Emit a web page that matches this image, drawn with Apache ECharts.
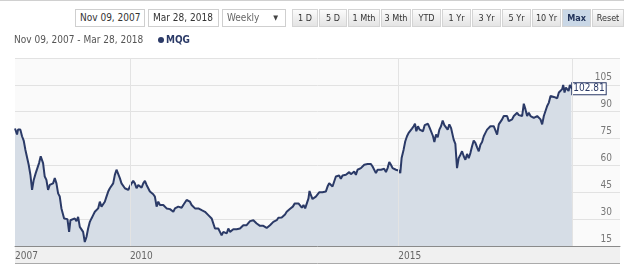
<!DOCTYPE html>
<html><head><meta charset="utf-8">
<script src="https://cdn.jsdelivr.net/npm/echarts@6/dist/echarts.min.js"></script>
<style>
body{margin:0;width:624px;height:266px;overflow:hidden;background:#fff;font-family:"DejaVu Sans Condensed","DejaVu Sans",sans-serif;}
#chart{position:absolute;left:0;top:0;width:624px;height:266px;}
.ctl{position:absolute;top:9px;height:18px;box-sizing:border-box;border:1px solid #cfcfcf;font-size:10px;line-height:16px;color:#333;white-space:nowrap;z-index:5;}
.inp{background:#fff;padding-left:4px;}
.sel{background:#fff;padding-left:4px;color:#666;}
.sel span{position:absolute;right:7px;top:0;font-size:7px;color:#444;}
.btn{background:linear-gradient(#fbfbfb,#e4e4e4);text-align:center;font-size:9px;border-color:#d4d4d4;}
.btn.on{background:#c9d7e6;font-weight:bold;color:#22335a;}
#topline{position:absolute;left:0;top:0;width:624px;height:1px;background:#d0d0d0;}
</style></head>
<body>
<div id="chart"></div>
<div id="topline"></div>
<div class="ctl inp" style="left:75px;width:70px">Nov 09, 2007</div>
<div class="ctl inp" style="left:148px;width:71px">Mar 28, 2018</div>
<div class="ctl sel" style="left:222px;width:64px">Weekly<span>&#9660;</span></div>
<div id="btns"></div>
<script>
// ---- data ----
const years = [
2007.860,2007.898,2007.916,2007.960,2007.991,2008.022,2008.053,2008.084,2008.115,2008.147,
2008.178,2008.209,2008.246,2008.277,2008.308,2008.339,2008.358,2008.383,2008.414,2008.445,
2008.476,2008.507,2008.538,2008.569,2008.601,2008.632,2008.663,2008.694,2008.725,2008.756,
2008.775,2008.806,2008.837,2008.868,2008.893,2008.930,2008.974,2009.005,2009.036,2009.067,
2009.098,2009.129,2009.160,2009.191,2009.222,2009.254,2009.285,2009.316,2009.347,2009.378,
2009.409,2009.440,2009.471,2009.502,2009.533,2009.564,2009.596,2009.627,2009.658,2009.689,
2009.720,2009.751,2009.782,2009.813,2009.844,2009.875,2009.907,2009.938,2009.969,2010.000,
2010.031,2010.062,2010.093,2010.124,2010.156,2010.187,2010.218,2010.249,2010.280,2010.311,
2010.342,2010.373,2010.404,2010.435,2010.466,2010.498,2010.529,2010.560,2010.591,2010.622,
2010.653,2010.684,2010.715,2010.747,2010.778,2010.809,2010.840,2010.871,2010.902,2010.933,
2010.964,2010.995,2011.026,2011.057,2011.088,2011.119,2011.150,2011.181,2011.213,2011.244,
2011.275,2011.306,2011.337,2011.368,2011.399,2011.430,2011.461,2011.492,2011.523,2011.554,
2011.585,2011.616,2011.647,2011.678,2011.709,2011.741,2011.772,2011.803,2011.834,2011.865,
2011.896,2011.927,2011.958,2011.989,2012.020,2012.051,2012.082,2012.113,2012.144,2012.175,
2012.206,2012.238,2012.269,2012.300,2012.331,2012.362,2012.393,2012.424,2012.455,2012.486,
2012.517,2012.548,2012.579,2012.610,2012.641,2012.672,2012.703,2012.735,2012.766,2012.797,
2012.828,2012.859,2012.890,2012.921,2012.952,2012.985,2013.035,2013.072,2013.109,2013.140,
2013.172,2013.203,2013.234,2013.265,2013.296,2013.327,2013.346,2013.371,2013.402,2013.433,
2013.464,2013.495,2013.526,2013.557,2013.588,2013.619,2013.650,2013.682,2013.713,2013.744,
2013.775,2013.806,2013.837,2013.868,2013.899,2013.930,2013.961,2013.992,2014.024,2014.055,
2014.086,2014.117,2014.148,2014.179,2014.210,2014.241,2014.272,2014.303,2014.334,2014.366,
2014.397,2014.428,2014.459,2014.490,2014.521,2014.552,2014.583,2014.614,2014.645,2014.677,
2014.708,2014.739,2014.770,2014.801,2014.832,2014.863,2014.894,2014.925,2014.956,2014.987,
2015.019,2015.037,2015.062,2015.099,2015.130,2015.162,2015.193,2015.224,2015.255,2015.286,
2015.311,2015.336,2015.367,2015.398,2015.429,2015.460,2015.491,2015.522,2015.553,2015.585,
2015.616,2015.647,2015.672,2015.703,2015.734,2015.765,2015.796,2015.827,2015.858,2015.889,
2015.920,2015.951,2015.982,2016.014,2016.032,2016.063,2016.094,2016.125,2016.157,2016.188,
2016.219,2016.250,2016.281,2016.312,2016.343,2016.374,2016.405,2016.436,2016.468,2016.499,
2016.530,2016.561,2016.592,2016.623,2016.654,2016.685,2016.716,2016.747,2016.778,2016.810,
2016.841,2016.872,2016.903,2016.934,2016.965,2016.996,2017.027,2017.058,2017.089,2017.120,
2017.152,2017.183,2017.214,2017.245,2017.276,2017.307,2017.338,2017.369,2017.400,2017.431,
2017.463,2017.494,2017.525,2017.556,2017.587,2017.618,2017.649,2017.680,2017.711,2017.742,
2017.773,2017.805,2017.836,2017.867,2017.898,2017.929,2017.960,2017.991,2018.022,2018.053,
2018.072,2018.097,2018.122,2018.147,2018.172,2018.196,2018.221,2018.240
];
const prices = [
80.6,77.3,80.0,80.0,76.3,73.9,68.8,68.3,60.4,54.8,
46.3,51.9,55.7,58.5,61.3,65.1,66.0,61.3,53.8,51.9,
46.3,49.1,48.2,50.0,52.9,50.0,44.4,42.6,36.0,35.0,
30.4,29.4,30.0,22.9,29.4,28.5,30.4,28.9,31.3,25.7,
24.75,22.9,17.25,20.0,24.75,28.5,30.4,32.25,34.1,33.2,
36.0,39.75,37.0,36.0,39.75,42.6,45.4,47.25,48.2,50.0,
54.75,57.6,56.6,52.9,50.0,49.1,47.25,48.2,46.3,48.2,
50.0,51.4,50.0,47.25,49.1,50.0,47.6,50.0,51.4,49.1,
47.25,45.4,44.4,43.9,42.6,37.0,39.75,37.9,38.8,37.9,
37.0,36.0,36.4,35.6,35.0,34.1,36.0,35.6,37.0,36.0,
36.4,37.9,38.8,40.7,41.6,39.75,37.9,37.0,36.0,35.6,
36.0,35.6,35.0,35.0,34.1,33.2,32.25,31.3,30.4,29.4,
24.75,23.8,24.75,22.9,21.0,22.9,23.8,22.0,24.75,22.9,
22.0,24.4,23.8,24.4,23.8,24.75,25.7,26.6,26.25,26.6,
27.6,28.9,29.25,29.4,28.9,27.6,26.6,26.25,25.7,26.25,
25.7,25.1,25.7,26.6,27.6,28.5,29.4,29.4,30.75,31.3,
30.9,31.3,32.6,34.1,35.0,35.8,37.0,38.8,37.9,38.8,
37.9,36.4,37.9,36.0,37.0,41.6,45.75,43.5,41.25,42.0,
42.6,43.5,45.0,43.9,45.0,44.4,45.4,48.2,50.0,49.4,
48.2,51.0,53.8,54.75,54.4,52.5,54.4,55.1,54.75,54.4,
56.25,55.1,55.7,56.6,54.75,57.6,56.6,58.5,59.4,60.4,
60.0,60.75,60.4,60.75,59.4,58.5,55.7,57.6,58.1,57.6,
58.5,58.1,56.25,58.5,61.9,60.4,58.5,58.9,57.6,58.5,
57.0,55.7,64.1,68.8,73.5,76.3,78.2,78.75,80.6,81.9,
83.25,79.1,81.9,80.0,81.0,79.1,82.5,81.4,83.25,81.0,
80.0,76.3,73.1,77.25,75.75,80.0,81.9,85.1,82.5,81.9,
80.0,82.9,81.0,81.9,74.4,72.0,58.5,64.1,66.0,67.9,
65.1,63.2,66.4,64.1,66.9,70.7,73.9,72.6,70.1,67.9,
71.6,73.1,76.3,78.2,80.0,80.6,81.9,82.9,81.9,82.9,
77.25,82.9,83.8,85.7,87.6,87.0,87.6,84.75,83.8,85.7,
87.6,88.5,89.4,88.1,88.9,87.6,94.5,91.3,87.6,89.4,
87.6,88.5,86.6,85.7,87.6,86.6,85.7,82.9,87.6,90.4,
93.2,95.1,98.8,98.8,98.25,98.8,97.5,100.7,101.6,102.6,
105.0,100.7,103.5,104.4,101.6,105.0,103.5,102.81
];
const seriesName = 'MQG';
const rangeText = 'Nov 09, 2007 - Mar 28, 2018';
const xLabelYears = [2007.86, 2010, 2015];
const xGridYears = [2010, 2015, 2018.24];
const yMin = 15, yMax = 120, yStep = 15;
const buttonLabels = ['1 D','5 D','1 Mth','3 Mth','YTD','1 Yr','3 Yr','5 Yr','10 Yr','Max','Reset'];

// ---- toolbar buttons ----
const btnLeft = [292,319,348,381,412,442,472,502,532,562,592];
const btnRight = [318,347,380,411,441,471,501,531,561,591,624];
const bc = document.getElementById('btns');
buttonLabels.forEach((t,i)=>{
  const d = document.createElement('div');
  d.className = 'ctl btn' + (t==='Max' ? ' on' : '');
  d.style.left = btnLeft[i] + 'px';
  d.style.width = (btnRight[i]-btnLeft[i]) + 'px';
  d.textContent = t;
  bc.appendChild(d);
});

const FONT = '"DejaVu Sans Condensed","DejaVu Sans",sans-serif';
const chart = echarts.init(document.getElementById('chart'), null, {renderer:'canvas'});
chart.setOption({
  animation: false,
  textStyle: {fontFamily: FONT},
  title: {text: rangeText, left: 14, top: 35, padding: 0,
    textStyle: {fontSize: 10, fontWeight: 'normal', color: '#555', fontFamily: FONT}},
  legend: {data: [seriesName], left: 158, top: 35, padding: 0, icon: 'circle',
    itemWidth: 6, itemHeight: 6, itemGap: 2,
    textStyle: {fontSize: 10, fontWeight: 'bold', color: '#2b3a67', fontFamily: FONT, padding:[0,0,0,-3]}},
  grid: {left: 15, right: 4, top: 58, bottom: 20, show: true, backgroundColor: '#fafafa', borderWidth: 0},
  graphic: [
    {type:'rect', z:-10, shape:{x:15, y:246, width:605, height:18}, style:{fill:'#f0f0f0'}},
    {type:'line', z:-9, shape:{x1:15, y1:263.5, x2:620, y2:263.5}, style:{stroke:'#aaa', lineWidth:1}},
    {type:'line', z:-9, shape:{x1:15.5, y1:58, x2:15.5, y2:246}, style:{stroke:'#ddd', lineWidth:1}}
  ],
  xAxis: {type: 'value', min: 2007.86, max: 2019.13,
    splitLine: {show: false}, axisTick: {show: false},
    axisLine: {show: true, lineStyle: {color: '#8a8a8a', width: 1}},
    axisLabel: {customValues: xLabelYears, formatter: v => String(Math.floor(v)),
      align: 'left', margin: 5, color: '#666', fontSize: 10, fontFamily: FONT}},
  yAxis: {type: 'value', position: 'right', min: yMin, max: yMax, interval: yStep,
    splitLine: {lineStyle: {color: '#e2e2e2', width: 1}},
    axisLine: {show: false}, axisTick: {show: false},
    axisLabel: {inside: true, showMaxLabel: false, verticalAlign: 'bottom', margin: 8,
      color: '#777', fontSize: 10, fontFamily: FONT, padding: [0,0,2,0]}},
  series: [{
    name: seriesName, type: 'line', showSymbol: false, symbol: 'circle',
    data: years.map((y, i) => [y, prices[i]]),
    lineStyle: {color: '#2b3a67', width: 2}, itemStyle: {color: '#2b3a67'},
    areaStyle: {color: '#d6dde6', opacity: 1},
    endLabel: {show: true, formatter: p => p.value[1].toFixed(2), distance: 0,
      color: '#2b3a67', backgroundColor: '#fff', borderColor: '#2b3a67', borderWidth: 1,
      padding: [1,1,0,1], fontSize: 10, fontFamily: FONT},
    markLine: {silent: true, symbol: 'none', label: {show: false},
      lineStyle: {color: '#e3e3e3', type: 'solid', width: 1},
      data: xGridYears.map(v => ({xAxis: v}))}
  }]
});
</script>
</body></html>
